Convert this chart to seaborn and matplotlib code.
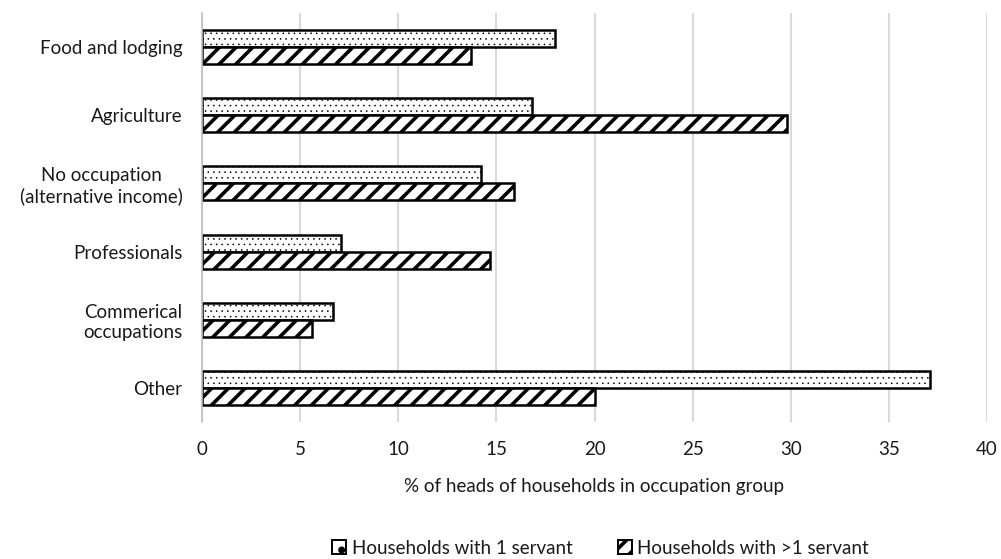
import matplotlib
matplotlib.use("Agg")
import matplotlib.pyplot as plt
from matplotlib.patches import Patch
import seaborn as sns
import pandas as pd

categories = [
    "Food and lodging",
    "Agriculture",
    "No occupation\n(alternative income)",
    "Professionals",
    "Commerical\noccupations",
    "Other",
]
one_servant = [18.0, 16.8, 14.2, 7.1, 6.7, 37.1]
more_servants = [13.7, 29.8, 15.9, 14.7, 5.6, 20.0]
series_names = ["Households with 1 servant", "Households with >1 servant"]
x_ticks = [0, 5, 10, 15, 20, 25, 30, 35, 40]

df = pd.DataFrame({
    "category": categories * 2,
    "value": one_servant + more_servants,
    "series": [series_names[0]] * len(categories) + [series_names[1]] * len(categories),
})

sns.set_style("white")
plt.rcParams["font.family"] = ["Lato", "DejaVu Sans"]
plt.rcParams["hatch.color"] = "black"
plt.rcParams["hatch.linewidth"] = 2.6

text_color = "#1a1a1a"
fs = 13.5

fig = plt.figure(figsize=(10.01, 5.59), dpi=100)
ax = fig.add_axes([202 / 1001, 1 - 422 / 559, 785 / 1001, 409 / 559])

sns.barplot(data=df, y="category", x="value", hue="series", order=categories,
            hue_order=series_names, orient="h", width=0.5, ax=ax,
            palette=["white", "white"], edgecolor="black", linewidth=1.8,
            legend=False, errorbar=None)

hatches = ["...", "//"]
hatch_lw = [0.4, 2.6]
for container, h, hl in zip(ax.containers, hatches, hatch_lw):
    for bar in container:
        bar.set_hatch(h)
        if hasattr(bar, "set_hatch_linewidth"):
            bar.set_hatch_linewidth(hl)

ax.set_xlim(0, 40)
ax.set_xticks(x_ticks)
ax.set_xticklabels([str(t) for t in x_ticks], fontsize=fs, color=text_color)
ax.set_ylim(len(categories) - 0.5, -0.5)
ax.set_ylabel("")
ax.set_xlabel("% of heads of households in occupation group", fontsize=fs,
              color=text_color, labelpad=14)
ax.tick_params(axis="y", labelsize=fs, colors=text_color, length=0, pad=14)
ax.tick_params(axis="x", length=0, pad=14)
for lbl in ax.get_yticklabels():
    lbl.set_multialignment("center")

ax.grid(axis="x", color="#d9d9d9", linewidth=1.5)
ax.set_axisbelow(True)
for s in ["top", "right", "bottom"]:
    ax.spines[s].set_visible(False)
ax.spines["left"].set_color("#bfbfbf")
ax.spines["left"].set_linewidth(1.2)

handles = []
for h, hl in zip([".", "//"], [0.3, 1.6]):
    p = Patch(facecolor="white", edgecolor="black", hatch=h, linewidth=1.4)
    if hasattr(p, "set_hatch_linewidth"):
        p.set_hatch_linewidth(hl)
    handles.append(p)
fig.legend(handles, series_names, loc="center", bbox_to_anchor=(0.6, 1 - 548 / 559),
           ncol=2, frameon=False, fontsize=fs, handlelength=0.75, handleheight=0.75,
           handletextpad=0.3, columnspacing=2.4, labelcolor=text_color)

fig.savefig("out.png", dpi=100)
